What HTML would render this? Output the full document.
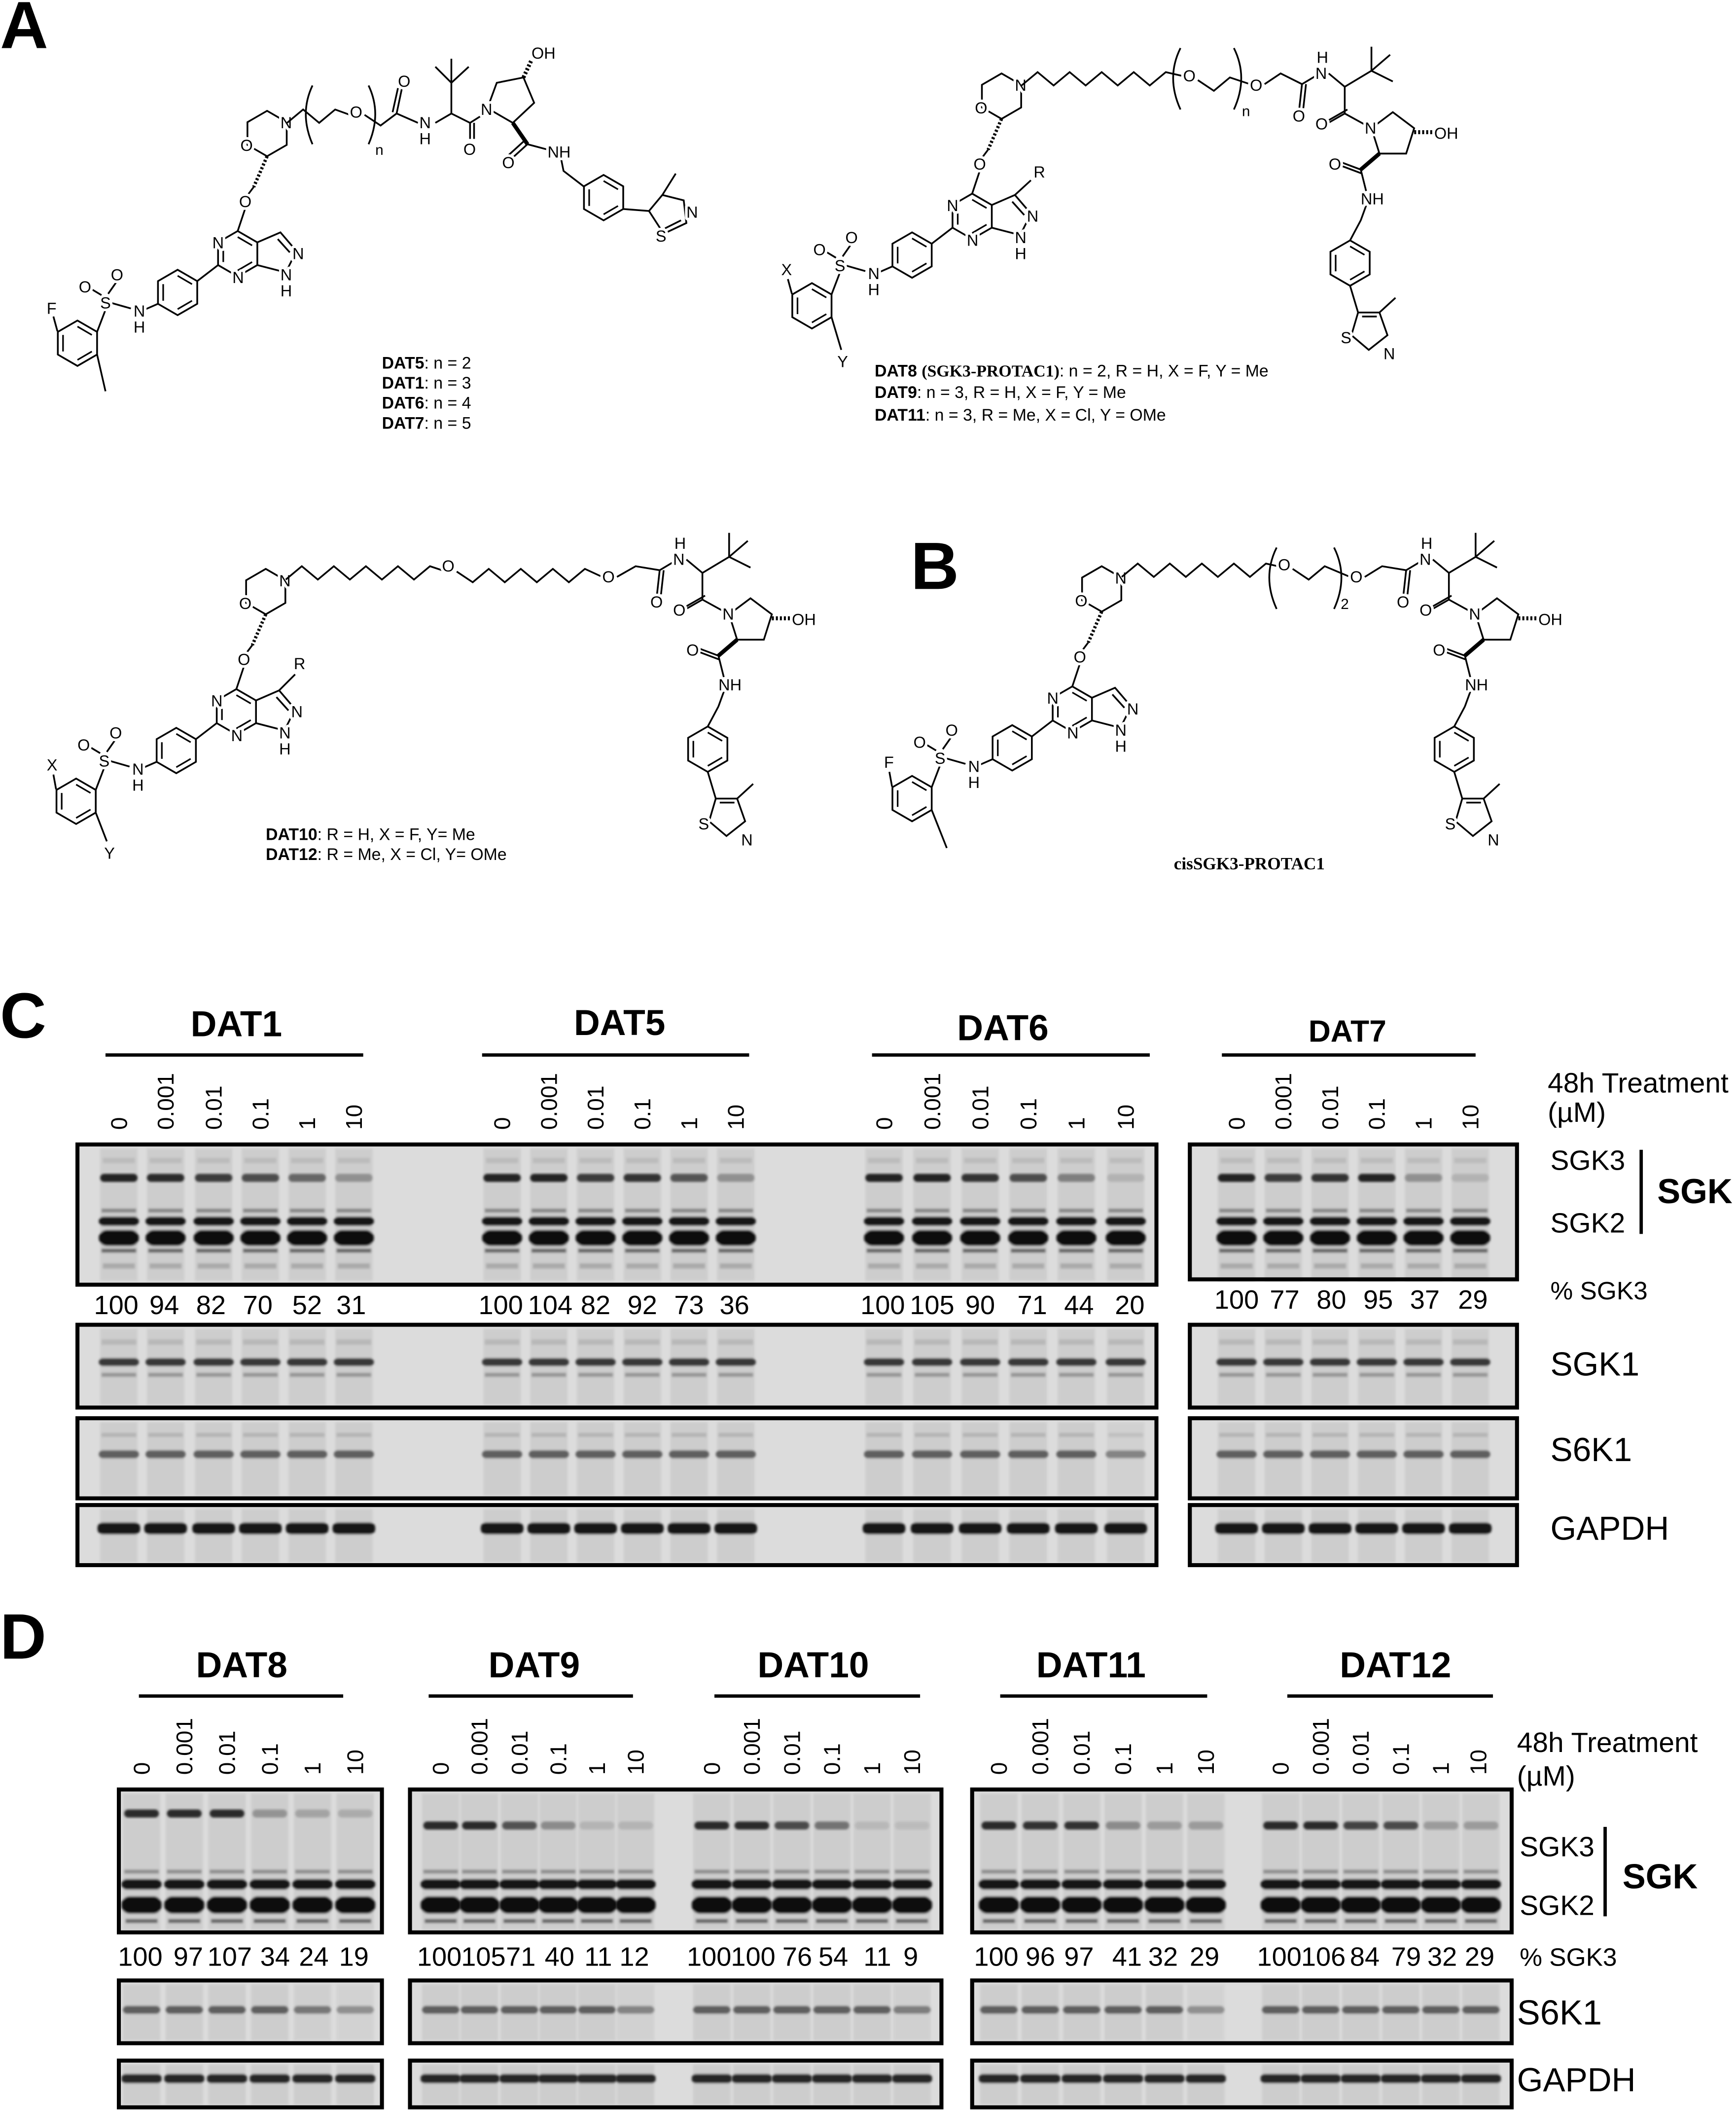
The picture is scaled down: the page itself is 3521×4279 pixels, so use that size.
<!DOCTYPE html>
<html><head><meta charset="utf-8"><style>
html,body{margin:0;padding:0;background:#fff}
svg{display:block}
text{font-family:"Liberation Sans",sans-serif;fill:#000}
.at{font-size:12px;stroke:#fff;stroke-width:4px;paint-order:stroke;stroke-linejoin:round}
.bd{fill:none;stroke:#000;stroke-width:1.3}
.lab{font-size:12.5px}
.r{font-size:17px}
.n{font-size:20px;text-anchor:middle}
.h{font-size:27px;font-weight:bold;text-anchor:middle}
.side{font-size:21px}
</style></head><body>
<svg xmlns="http://www.w3.org/2000/svg" xmlns:xlink="http://www.w3.org/1999/xlink" width="3521" height="4279" viewBox="0 0 1300 1580" preserveAspectRatio="none">
<defs>
<filter id="bl" x="-20%" y="-20%" width="140%" height="140%"><feGaussianBlur stdDeviation="0.9"/></filter>
<polygon id="hx" points="0,-17 14.7,-8.5 14.7,8.5 0,17 -14.7,8.5 -14.7,-8.5" fill="none" stroke="#000" stroke-width="1.3"/>
<g id="ar"><use href="#hx"/><path d="M0,-12.5 L10.8,-6.2 M10.8,6.2 L0,12.5 M-10.8,6.2 L-10.8,-6.2" fill="none" stroke="#000" stroke-width="1.2"/></g>
<g id="LT">
 <use href="#hx"/>
 <path class="bd" d="M-16,55 L-22,73 M-36.7,98.5 L-52.3,110.5 M-81.7,127.5 L-92,132 M-102,131 L-116,127 M-121,132 L-127.3,148.5 M-124,121 L-134,115 M-119,120 L-112,110"/>
 <path d="M0,17 L-10,40" stroke="#000" stroke-width="2.5" stroke-dasharray="1.5 1.5" fill="none"/>
 <path class="bd" d="M-10,40 L-16,48"/>
 <use href="#ar" x="-22" y="90"/>
 <polyline class="bd" points="-7.3,81.5 10,74 22,88 14,104 -7.3,98.5"/>
 <path class="bd" d="M8,79 L17,89"/>
 <use href="#ar" x="-67" y="119"/>
 <use href="#ar" x="-142" y="157"/>
 <text class="at" x="10" y="-4">N</text>
 <text class="at" x="-20" y="13">O</text>
 <text class="at" x="-21" y="55">O</text>
 <text class="at" x="-41" y="86">N</text>
 <text class="at" x="-26" y="112">N</text>
 <text class="at" x="19" y="94">N</text>
 <text class="at" x="10" y="110">N</text>
 <text class="at" x="10" y="122">H</text>
 <text class="at" x="-100" y="137">N</text>
 <text class="at" x="-100" y="149">H</text>
 <text class="at" x="-125" y="131">S</text>
 <text class="at" x="-141" y="119">O</text>
 <text class="at" x="-117" y="110">O</text>
</g>
<g id="RT">
 <polygon class="bd" points="-18,-5 -12,14 8,14 14,-5 -2,-17"/>
 <path class="bd" d="M-18,-5 L-38,-16 M-38,-16 L-52,-8 M-36,-19 L-50,-11 M-38,-16 L-38,-36 M-38,-36 L-18,-48 M-18,-48 L-18,-66 M-18,-48 L-2,-40 M-18,-48 L-4,-60 M-38,-36 L-50,-46 M-60,-44 L-70,-38 M-70,-38 L-72,-20 M-67,-38 L-69,-20 M-26,26 L-42,20 M-25,29 L-41,23 M-26,26 L-22,42 M-22,53 L-26,64 M-26,64 L-34,79 M-34,113 L-28,133"/>
 <path d="M-12,14 L-26,26" stroke="#000" stroke-width="3"/>
 <path d="M14,-2 L28,-2" stroke="#000" stroke-width="3" stroke-dasharray="1.5 1.5"/>
 <use href="#ar" x="-34" y="96"/>
 <polygon class="bd" points="-28,133 -12,133 -6,150 -20,161 -33,150"/>
 <path class="bd" d="M-12,133 L0,122 M-25,136 L-14,136"/>
 <text class="at" x="-23" y="-1">N</text>
 <text class="at" x="29" y="3">OH</text>
 <text class="at" x="-60" y="-4">O</text>
 <text class="at" x="-60" y="-42">N</text>
 <text class="at" x="-59" y="-54">H</text>
 <text class="at" x="-77" y="-10">O</text>
 <text class="at" x="-50" y="26">O</text>
 <text class="at" x="-26" y="52">NH</text>
 <text class="at" x="-41" y="156">S</text>
 <text class="at" x="-9" y="168">N</text>
</g>
<g id="cL" filter="url(#bl)"><rect x="-14" y="860" width="28" height="99" fill="#cdcdcd"/><rect x="-12" y="867" width="24" height="4" fill="#bcbcbc"/><rect x="-13" y="905" width="26" height="3" fill="#888"/><rect x="-15" y="911" width="30" height="7" rx="3.5" fill="#161616"/><rect x="-15" y="921" width="30" height="12" rx="6" fill="#0a0a0a"/><rect x="-13" y="935" width="26" height="3" fill="#666"/><rect x="-12" y="946" width="24" height="4" fill="#aaa"/></g>
<g id="c3" filter="url(#bl)"><rect x="-14" y="879" width="28" height="6" rx="3" fill="#222"/></g>
<g id="c1" filter="url(#bl)"><rect x="-14" y="995" width="28" height="57" fill="#cdcdcd"/><rect x="-13" y="1003" width="26" height="4" fill="#b8b8b8"/><rect x="-15" y="1017" width="30" height="6" rx="3" fill="#383838"/><rect x="-13" y="1028" width="26" height="3" fill="#959595"/></g>
<g id="c6" filter="url(#bl)"><rect x="-14" y="1065" width="28" height="55" fill="#cdcdcd"/><rect x="-13" y="1073" width="26" height="3" fill="#b4b4b4"/><rect x="-15" y="1086" width="30" height="6" rx="3" fill="#5e5e5e"/></g>
<g id="cG" filter="url(#bl)"><rect x="-14" y="1130" width="28" height="40" fill="#cdcdcd"/><rect x="-16" y="1140" width="32" height="9" rx="4" fill="#151515"/></g>
<g id="dL" filter="url(#bl)"><rect x="-14" y="1343" width="28" height="102" fill="#cdcdcd"/><rect x="-13" y="1400" width="26" height="3" fill="#909090"/><rect x="-15" y="1407" width="30" height="8" rx="4" fill="#151515"/><rect x="-15" y="1420" width="30" height="13" rx="6" fill="#0a0a0a"/><rect x="-12" y="1437" width="24" height="3" fill="#666"/></g>
<g id="d3" filter="url(#bl)"><rect x="-13" y="1364" width="26" height="6" rx="3" fill="#2a2a2a"/></g>
<g id="d6" filter="url(#bl)"><rect x="-14" y="1486" width="28" height="42" fill="#cdcdcd"/><rect x="-14" y="1502" width="28" height="6" rx="3" fill="#5e5e5e"/></g>
<g id="dG" filter="url(#bl)"><rect x="-14" y="1546" width="28" height="30" fill="#cdcdcd"/><rect x="-15" y="1553" width="30" height="7" rx="3" fill="#252525"/></g>
</defs>

<rect width="1300" height="1580" fill="#fff"/>

<text x="0" y="36" style="font-size:50px;font-weight:bold">A</text>
<text x="682" y="441" style="font-size:50px;font-weight:bold">B</text>

<!-- Structure 1 -->
<use href="#LT" x="200" y="100"/>
<path class="bd" d="M43,248 L40,237 M72.7,265.5 L79,293"/>
<text class="at" x="35" y="235">F</text>
<polyline class="bd" points="215,92 227,82 239,92 251,82 262,86"/>
<polyline class="bd" points="273,86 285,94 297,85 313,92"/>
<path class="bd" d="M297,85 L301,66 M294,84 L298,66 M326,92 L338,85 L338,62 M338,62 L326,50 M338,62 L338,44 M338,62 L351,50 M338,85 L352,92 L352,104 M355,92 L355,104 M352,92 L363,85"/>
<path class="bd" d="M234,64 Q224,85 234,108 M276,64 Q286,85 276,108"/>
<text class="at" x="262" y="88">O</text>
<text class="at" x="281" y="116" style="font-size:11px">n</text>
<text class="at" x="298" y="65">O</text>
<text class="at" x="314" y="96">N</text>
<text class="at" x="314" y="108">H</text>
<text class="at" x="347" y="116">O</text>
<polygon class="bd" points="365,81 372,62 392,58 400,77 384,92"/>
<path d="M392,58 L398,45" stroke="#000" stroke-width="3" stroke-dasharray="1.5 1.5"/>
<path d="M384,92 L395,108" stroke="#000" stroke-width="3"/>
<path class="bd" d="M395,108 L384,118 M392,106 L381,116 M395,108 L410,112 M420,118 L422,128 L437,139.5 M466.7,156.5 L486,158 M496,146 L506,130 M498,171 L510,165"/>
<text class="at" x="360" y="86">N</text>
<text class="at" x="398" y="44">OH</text>
<text class="at" x="376" y="126">O</text>
<text class="at" x="410" y="118">NH</text>
<use href="#ar" x="452" y="148"/>
<polygon class="bd" points="486,158 496,146 512,150 514,167 497,175"/>
<text class="at" x="491" y="181">S</text>
<text class="at" x="514" y="163">N</text>
<text class="lab" x="286" y="276"><tspan font-weight="bold">DAT5</tspan>: n = 2</text>
<text class="lab" x="286" y="291"><tspan font-weight="bold">DAT1</tspan>: n = 3</text>
<text class="lab" x="286" y="306"><tspan font-weight="bold">DAT6</tspan>: n = 4</text>
<text class="lab" x="286" y="321"><tspan font-weight="bold">DAT7</tspan>: n = 5</text>

<!-- Structure 2 -->
<use href="#LT" x="750" y="72"/>
<path class="bd" d="M593,220 L590,209 M622.7,237.5 L630,262 M760,146 L772,135"/>
<text class="at" x="585" y="206">X</text>
<text class="at" x="627" y="275">Y</text>
<text class="at" x="774" y="133">R</text>
<polyline class="bd" points="765,64 777,54 789,64 801,54 813,64 825,54 837,64 849,54 861,64 873,54 886,57"/>
<polyline class="bd" points="897,60 909,68 921,58 936,63"/>
<path class="bd" d="M884,36 Q873,58 884,82 M924,36 Q935,58 924,82"/>
<text class="at" x="886" y="61">O</text>
<text class="at" x="930" y="87" style="font-size:11px">n</text>
<text class="at" x="936" y="68">O</text>
<polyline class="bd" points="947,63 959,55 975,63"/>
<use href="#RT" x="1045" y="101"/>
<text class="lab" x="655" y="282"><tspan font-weight="bold">DAT8</tspan> <tspan font-weight="bold" font-family="Liberation Serif">(SGK3-PROTAC1)</tspan>: n = 2, R = H, X = F, Y = Me</text>
<text class="lab" x="655" y="298"><tspan font-weight="bold">DAT9</tspan>: n = 3, R = H, X = F, Y = Me</text>
<text class="lab" x="655" y="315"><tspan font-weight="bold">DAT11</tspan>: n = 3, R = Me, X = Cl, Y = OMe</text>

<!-- Structure 3 -->
<use href="#LT" x="199" y="443"/>
<path class="bd" d="M42,591 L40,580 M71.7,608.5 L80,630 M209,517 L221,505"/>
<text class="at" x="35" y="577">X</text>
<text class="at" x="78" y="643">Y</text>
<text class="at" x="220" y="501">R</text>
<polyline class="bd" points="214,434 226,424 238,434 250,424 262,434 274,424 286,434 298,424 310,434 322,424 331,427"/>
<polyline class="bd" points="342,428 354,436 366,426 378,436 390,426 402,436 414,426 426,436 438,426 451,432"/>
<polyline class="bd" points="462,432 476,424 494,427"/>
<text class="at" x="331" y="428">O</text>
<text class="at" x="451" y="436">O</text>
<use href="#RT" x="564" y="465"/>
<text class="lab" x="199" y="629"><tspan font-weight="bold">DAT10</tspan>: R = H, X = F, Y= Me</text>
<text class="lab" x="199" y="644"><tspan font-weight="bold">DAT12</tspan>: R = Me, X = Cl, Y= OMe</text>

<!-- Structure 4 (B) -->
<use href="#LT" x="825" y="441"/>
<path class="bd" d="M668,589 L666,578 M697.7,606.5 L709,635"/>
<text class="at" x="662" y="575">F</text>
<polyline class="bd" points="840,432 852,422 864,432 876,422 888,432 900,422 912,432 924,422 936,432 948,422 957,424"/>
<polyline class="bd" points="968,426 980,434 992,424 1011,432"/>
<path class="bd" d="M956,410 Q945,432 956,456 M999,410 Q1010,432 999,456"/>
<text class="at" x="957" y="427">O</text>
<text class="at" x="1004" y="456" style="font-size:11px">2</text>
<text class="at" x="1011" y="436">O</text>
<polyline class="bd" points="1022,432 1035,424 1053,427"/>
<use href="#RT" x="1123" y="465"/>
<text x="879" y="651" style="font-family:'Liberation Serif',serif;font-size:13px;font-weight:bold">cisSGK3-PROTAC1</text>

<!-- Panel C -->
<text x="0" y="777" style="font-size:48px;font-weight:bold">C</text>
<text class="h" x="177" y="776">DAT1</text>
<text class="h" x="464" y="775">DAT5</text>
<text class="h" x="751" y="779">DAT6</text>
<text class="h" x="1009" y="780" style="font-size:23px">DAT7</text>
<g stroke="#000" stroke-width="2.5">
<line x1="79" y1="790" x2="272" y2="790"/><line x1="361" y1="790" x2="561" y2="790"/><line x1="653" y1="790" x2="861" y2="790"/><line x1="915" y1="790" x2="1105" y2="790"/>
</g>
<g>
<text class="r" transform="translate(95,846) rotate(-90)">0</text><text class="r" transform="translate(130,846) rotate(-90)">0.001</text><text class="r" transform="translate(166,846) rotate(-90)">0.01</text><text class="r" transform="translate(201,846) rotate(-90)">0.1</text><text class="r" transform="translate(236,846) rotate(-90)">1</text><text class="r" transform="translate(271,846) rotate(-90)">10</text>
<text class="r" transform="translate(382,846) rotate(-90)">0</text><text class="r" transform="translate(417,846) rotate(-90)">0.001</text><text class="r" transform="translate(452,846) rotate(-90)">0.01</text><text class="r" transform="translate(487,846) rotate(-90)">0.1</text><text class="r" transform="translate(522,846) rotate(-90)">1</text><text class="r" transform="translate(557,846) rotate(-90)">10</text>
<text class="r" transform="translate(668,846) rotate(-90)">0</text><text class="r" transform="translate(704,846) rotate(-90)">0.001</text><text class="r" transform="translate(740,846) rotate(-90)">0.01</text><text class="r" transform="translate(776,846) rotate(-90)">0.1</text><text class="r" transform="translate(812,846) rotate(-90)">1</text><text class="r" transform="translate(849,846) rotate(-90)">10</text>
<text class="r" transform="translate(932,846) rotate(-90)">0</text><text class="r" transform="translate(967,846) rotate(-90)">0.001</text><text class="r" transform="translate(1002,846) rotate(-90)">0.01</text><text class="r" transform="translate(1037,846) rotate(-90)">0.1</text><text class="r" transform="translate(1072,846) rotate(-90)">1</text><text class="r" transform="translate(1107,846) rotate(-90)">10</text>
</g>
<text class="side" x="1159" y="818">48h Treatment</text>
<text class="side" x="1159" y="840">(µM)</text>

<rect x="58" y="857" width="808" height="105" fill="#dcdcdc"/>
<rect x="891" y="857" width="245" height="101" fill="#dcdcdc"/>
<g>
<use href="#cL" x="89"/><use href="#cL" x="124"/><use href="#cL" x="160"/><use href="#cL" x="195"/><use href="#cL" x="230"/><use href="#cL" x="265"/>
<use href="#cL" x="376"/><use href="#cL" x="411"/><use href="#cL" x="446"/><use href="#cL" x="481"/><use href="#cL" x="516"/><use href="#cL" x="551"/>
<use href="#cL" x="662"/><use href="#cL" x="698"/><use href="#cL" x="734"/><use href="#cL" x="770"/><use href="#cL" x="806"/><use href="#cL" x="843"/>
<use href="#cL" x="926"/><use href="#cL" x="961"/><use href="#cL" x="996"/><use href="#cL" x="1031"/><use href="#cL" x="1066"/><use href="#cL" x="1101"/>
<use href="#c3" x="89"/><use href="#c3" x="124" opacity=".95"/><use href="#c3" x="160" opacity=".85"/><use href="#c3" x="195" opacity=".75"/><use href="#c3" x="230" opacity=".6"/><use href="#c3" x="265" opacity=".35"/>
<use href="#c3" x="376"/><use href="#c3" x="411"/><use href="#c3" x="446" opacity=".85"/><use href="#c3" x="481" opacity=".9"/><use href="#c3" x="516" opacity=".7"/><use href="#c3" x="551" opacity=".35"/>
<use href="#c3" x="662"/><use href="#c3" x="698"/><use href="#c3" x="734" opacity=".9"/><use href="#c3" x="770" opacity=".75"/><use href="#c3" x="806" opacity=".45"/><use href="#c3" x="843" opacity=".15"/>
<use href="#c3" x="926"/><use href="#c3" x="961" opacity=".85"/><use href="#c3" x="996" opacity=".9"/><use href="#c3" x="1031"/><use href="#c3" x="1066" opacity=".35"/><use href="#c3" x="1101" opacity=".15"/>
</g>
<rect x="58" y="857" width="808" height="105" fill="none" stroke="#000" stroke-width="3"/>
<rect x="891" y="857" width="245" height="101" fill="none" stroke="#000" stroke-width="3"/>
<text class="side" x="1161" y="876">SGK3</text>
<text class="side" x="1161" y="923">SGK2</text>
<line x1="1229" y1="861" x2="1229" y2="924" stroke="#000" stroke-width="2.5"/>
<text x="1241" y="901" style="font-size:26px;font-weight:bold">SGK</text>

<g>
<text class="n" x="87" y="984">100</text><text class="n" x="123" y="984">94</text><text class="n" x="158" y="984">82</text><text class="n" x="193" y="984">70</text><text class="n" x="230" y="984">52</text><text class="n" x="263" y="984">31</text>
<text class="n" x="375" y="984">100</text><text class="n" x="412" y="984">104</text><text class="n" x="446" y="984">82</text><text class="n" x="481" y="984">92</text><text class="n" x="516" y="984">73</text><text class="n" x="550" y="984">36</text>
<text class="n" x="661" y="984">100</text><text class="n" x="698" y="984">105</text><text class="n" x="734" y="984">90</text><text class="n" x="773" y="984">71</text><text class="n" x="808" y="984">44</text><text class="n" x="846" y="984">20</text>
<text class="n" x="926" y="980">100</text><text class="n" x="962" y="980">77</text><text class="n" x="997" y="980">80</text><text class="n" x="1032" y="980">95</text><text class="n" x="1067" y="980">37</text><text class="n" x="1103" y="980">29</text>
</g>
<text class="side" x="1161" y="973" style="font-size:19px">% SGK3</text>

<rect x="58" y="992" width="808" height="62" fill="#dcdcdc"/>
<rect x="891" y="992" width="245" height="62" fill="#dcdcdc"/>
<use href="#c1" x="89"/><use href="#c1" x="124"/><use href="#c1" x="160"/><use href="#c1" x="195"/><use href="#c1" x="230"/><use href="#c1" x="265"/>
<use href="#c1" x="376"/><use href="#c1" x="411"/><use href="#c1" x="446"/><use href="#c1" x="481"/><use href="#c1" x="516"/><use href="#c1" x="551"/>
<use href="#c1" x="662"/><use href="#c1" x="698"/><use href="#c1" x="734"/><use href="#c1" x="770"/><use href="#c1" x="806"/><use href="#c1" x="843"/>
<use href="#c1" x="926"/><use href="#c1" x="961"/><use href="#c1" x="996"/><use href="#c1" x="1031"/><use href="#c1" x="1066"/><use href="#c1" x="1101"/>
<rect x="58" y="992" width="808" height="62" fill="none" stroke="#000" stroke-width="3"/>
<rect x="891" y="992" width="245" height="62" fill="none" stroke="#000" stroke-width="3"/>
<text x="1161" y="1030" style="font-size:25px">SGK1</text>

<rect x="58" y="1062" width="808" height="60" fill="#dcdcdc"/>
<rect x="891" y="1062" width="245" height="60" fill="#dcdcdc"/>
<use href="#c6" x="89"/><use href="#c6" x="124"/><use href="#c6" x="160"/><use href="#c6" x="195"/><use href="#c6" x="230"/><use href="#c6" x="265"/>
<use href="#c6" x="376"/><use href="#c6" x="411"/><use href="#c6" x="446"/><use href="#c6" x="481"/><use href="#c6" x="516"/><use href="#c6" x="551"/>
<use href="#c6" x="662"/><use href="#c6" x="698"/><use href="#c6" x="734"/><use href="#c6" x="770"/><use href="#c6" x="806"/><use href="#c6" x="843" opacity=".7"/>
<use href="#c6" x="926"/><use href="#c6" x="961"/><use href="#c6" x="996"/><use href="#c6" x="1031"/><use href="#c6" x="1066"/><use href="#c6" x="1101"/>
<rect x="58" y="1062" width="808" height="60" fill="none" stroke="#000" stroke-width="3"/>
<rect x="891" y="1062" width="245" height="60" fill="none" stroke="#000" stroke-width="3"/>
<text x="1161" y="1094" style="font-size:25px">S6K1</text>

<rect x="58" y="1127" width="808" height="45" fill="#dcdcdc"/>
<rect x="891" y="1127" width="245" height="45" fill="#dcdcdc"/>
<use href="#cG" x="89"/><use href="#cG" x="124"/><use href="#cG" x="160"/><use href="#cG" x="195"/><use href="#cG" x="230"/><use href="#cG" x="265"/>
<use href="#cG" x="376"/><use href="#cG" x="411"/><use href="#cG" x="446"/><use href="#cG" x="481"/><use href="#cG" x="516"/><use href="#cG" x="551"/>
<use href="#cG" x="662"/><use href="#cG" x="698"/><use href="#cG" x="734"/><use href="#cG" x="770"/><use href="#cG" x="806"/><use href="#cG" x="843"/>
<use href="#cG" x="926"/><use href="#cG" x="961"/><use href="#cG" x="996"/><use href="#cG" x="1031"/><use href="#cG" x="1066"/><use href="#cG" x="1101"/>
<rect x="58" y="1127" width="808" height="45" fill="none" stroke="#000" stroke-width="3"/>
<rect x="891" y="1127" width="245" height="45" fill="none" stroke="#000" stroke-width="3"/>
<text x="1161" y="1153" style="font-size:25px">GAPDH</text>

<!-- Panel D -->
<text x="0" y="1242" style="font-size:48px;font-weight:bold">D</text>
<text class="h" x="181" y="1256">DAT8</text>
<text class="h" x="400" y="1256">DAT9</text>
<text class="h" x="609" y="1256">DAT10</text>
<text class="h" x="817" y="1256">DAT11</text>
<text class="h" x="1045" y="1256">DAT12</text>
<g stroke="#000" stroke-width="2.5">
<line x1="104" y1="1270" x2="257" y2="1270"/><line x1="321" y1="1270" x2="474" y2="1270"/><line x1="535" y1="1270" x2="689" y2="1270"/><line x1="749" y1="1270" x2="904" y2="1270"/><line x1="964" y1="1270" x2="1118" y2="1270"/>
</g>
<g>
<text class="r" transform="translate(112,1329) rotate(-90)">0</text><text class="r" transform="translate(144,1329) rotate(-90)">0.001</text><text class="r" transform="translate(176,1329) rotate(-90)">0.01</text><text class="r" transform="translate(208,1329) rotate(-90)">0.1</text><text class="r" transform="translate(240,1329) rotate(-90)">1</text><text class="r" transform="translate(272,1329) rotate(-90)">10</text>
<text class="r" transform="translate(336,1329) rotate(-90)">0</text><text class="r" transform="translate(365,1329) rotate(-90)">0.001</text><text class="r" transform="translate(395,1329) rotate(-90)">0.01</text><text class="r" transform="translate(424,1329) rotate(-90)">0.1</text><text class="r" transform="translate(453,1329) rotate(-90)">1</text><text class="r" transform="translate(482,1329) rotate(-90)">10</text>
<text class="r" transform="translate(539,1329) rotate(-90)">0</text><text class="r" transform="translate(569,1329) rotate(-90)">0.001</text><text class="r" transform="translate(599,1329) rotate(-90)">0.01</text><text class="r" transform="translate(629,1329) rotate(-90)">0.1</text><text class="r" transform="translate(659,1329) rotate(-90)">1</text><text class="r" transform="translate(689,1329) rotate(-90)">10</text>
<text class="r" transform="translate(754,1329) rotate(-90)">0</text><text class="r" transform="translate(785,1329) rotate(-90)">0.001</text><text class="r" transform="translate(816,1329) rotate(-90)">0.01</text><text class="r" transform="translate(847,1329) rotate(-90)">0.1</text><text class="r" transform="translate(878,1329) rotate(-90)">1</text><text class="r" transform="translate(909,1329) rotate(-90)">10</text>
<text class="r" transform="translate(965,1329) rotate(-90)">0</text><text class="r" transform="translate(995,1329) rotate(-90)">0.001</text><text class="r" transform="translate(1025,1329) rotate(-90)">0.01</text><text class="r" transform="translate(1055,1329) rotate(-90)">0.1</text><text class="r" transform="translate(1085,1329) rotate(-90)">1</text><text class="r" transform="translate(1113,1329) rotate(-90)">10</text>
</g>
<text class="side" x="1136" y="1312">48h Treatment</text>
<text class="side" x="1136" y="1337">(µM)</text>

<rect x="89" y="1340" width="197" height="107" fill="#dcdcdc"/>
<rect x="307" y="1340" width="398" height="107" fill="#dcdcdc"/>
<rect x="728" y="1340" width="404" height="107" fill="#dcdcdc"/>
<use href="#dL" x="106"/><use href="#dL" x="138"/><use href="#dL" x="170"/><use href="#dL" x="202"/><use href="#dL" x="234"/><use href="#dL" x="266"/>
<use href="#dL" x="330"/><use href="#dL" x="359"/><use href="#dL" x="389"/><use href="#dL" x="418"/><use href="#dL" x="447"/><use href="#dL" x="476"/>
<use href="#dL" x="533"/><use href="#dL" x="563"/><use href="#dL" x="593"/><use href="#dL" x="623"/><use href="#dL" x="653"/><use href="#dL" x="683"/>
<use href="#dL" x="748"/><use href="#dL" x="779"/><use href="#dL" x="810"/><use href="#dL" x="841"/><use href="#dL" x="872"/><use href="#dL" x="903"/>
<use href="#dL" x="959"/><use href="#dL" x="989"/><use href="#dL" x="1019"/><use href="#dL" x="1049"/><use href="#dL" x="1079"/><use href="#dL" x="1109"/>
<g transform="translate(0,-9)"><use href="#d3" x="106"/><use href="#d3" x="138"/><use href="#d3" x="170"/><use href="#d3" x="202" opacity=".35"/><use href="#d3" x="234" opacity=".25"/><use href="#d3" x="266" opacity=".2"/></g>
<use href="#d3" x="330"/><use href="#d3" x="359"/><use href="#d3" x="389" opacity=".75"/><use href="#d3" x="418" opacity=".4"/><use href="#d3" x="447" opacity=".15"/><use href="#d3" x="476" opacity=".15"/>
<use href="#d3" x="533"/><use href="#d3" x="563"/><use href="#d3" x="593" opacity=".8"/><use href="#d3" x="623" opacity=".55"/><use href="#d3" x="653" opacity=".12"/><use href="#d3" x="683" opacity=".1"/>
<use href="#d3" x="748"/><use href="#d3" x="779" opacity=".95"/><use href="#d3" x="810" opacity=".95"/><use href="#d3" x="841" opacity=".4"/><use href="#d3" x="872" opacity=".3"/><use href="#d3" x="903" opacity=".3"/>
<use href="#d3" x="959"/><use href="#d3" x="989"/><use href="#d3" x="1019" opacity=".85"/><use href="#d3" x="1049" opacity=".8"/><use href="#d3" x="1079" opacity=".3"/><use href="#d3" x="1109" opacity=".3"/>
<rect x="89" y="1340" width="197" height="107" fill="none" stroke="#000" stroke-width="3"/>
<rect x="307" y="1340" width="398" height="107" fill="none" stroke="#000" stroke-width="3"/>
<rect x="728" y="1340" width="404" height="107" fill="none" stroke="#000" stroke-width="3"/>
<text class="side" x="1138" y="1390">SGK3</text>
<text class="side" x="1138" y="1434">SGK2</text>
<line x1="1202" y1="1368" x2="1202" y2="1435" stroke="#000" stroke-width="2.5"/>
<text x="1215" y="1414" style="font-size:26px;font-weight:bold">SGK</text>

<g>
<text class="n" x="105" y="1472">100</text><text class="n" x="141" y="1472">97</text><text class="n" x="172" y="1472">107</text><text class="n" x="206" y="1472">34</text><text class="n" x="235" y="1472">24</text><text class="n" x="265" y="1472">19</text>
<text class="n" x="329" y="1472">100</text><text class="n" x="362" y="1472">105</text><text class="n" x="390" y="1472">71</text><text class="n" x="419" y="1472">40</text><text class="n" x="448" y="1472">11</text><text class="n" x="475" y="1472">12</text>
<text class="n" x="531" y="1472">100</text><text class="n" x="564" y="1472">100</text><text class="n" x="597" y="1472">76</text><text class="n" x="624" y="1472">54</text><text class="n" x="657" y="1472">11</text><text class="n" x="682" y="1472">9</text>
<text class="n" x="746" y="1472">100</text><text class="n" x="779" y="1472">96</text><text class="n" x="808" y="1472">97</text><text class="n" x="844" y="1472">41</text><text class="n" x="871" y="1472">32</text><text class="n" x="902" y="1472">29</text>
<text class="n" x="958" y="1472">100</text><text class="n" x="991" y="1472">106</text><text class="n" x="1022" y="1472">84</text><text class="n" x="1053" y="1472">79</text><text class="n" x="1080" y="1472">32</text><text class="n" x="1108" y="1472">29</text>
</g>
<text class="side" x="1138" y="1472" style="font-size:19px">% SGK3</text>

<rect x="89" y="1483" width="197" height="47" fill="#dcdcdc"/>
<rect x="307" y="1483" width="398" height="47" fill="#dcdcdc"/>
<rect x="728" y="1483" width="404" height="47" fill="#dcdcdc"/>
<use href="#d6" x="106"/><use href="#d6" x="138"/><use href="#d6" x="170"/><use href="#d6" x="202"/><use href="#d6" x="234" opacity=".8"/><use href="#d6" x="266" opacity=".6"/>
<use href="#d6" x="330"/><use href="#d6" x="359"/><use href="#d6" x="389"/><use href="#d6" x="418"/><use href="#d6" x="447"/><use href="#d6" x="476" opacity=".7"/>
<use href="#d6" x="533"/><use href="#d6" x="563"/><use href="#d6" x="593"/><use href="#d6" x="623"/><use href="#d6" x="653"/><use href="#d6" x="683" opacity=".75"/>
<use href="#d6" x="748"/><use href="#d6" x="779"/><use href="#d6" x="810"/><use href="#d6" x="841"/><use href="#d6" x="872"/><use href="#d6" x="903" opacity=".6"/>
<use href="#d6" x="959"/><use href="#d6" x="989"/><use href="#d6" x="1019"/><use href="#d6" x="1049"/><use href="#d6" x="1079"/><use href="#d6" x="1109"/>
<rect x="89" y="1483" width="197" height="47" fill="none" stroke="#000" stroke-width="3"/>
<rect x="307" y="1483" width="398" height="47" fill="none" stroke="#000" stroke-width="3"/>
<rect x="728" y="1483" width="404" height="47" fill="none" stroke="#000" stroke-width="3"/>
<text x="1136" y="1516" style="font-size:26px">S6K1</text>

<rect x="89" y="1543" width="197" height="35" fill="#dcdcdc"/>
<rect x="307" y="1543" width="398" height="35" fill="#dcdcdc"/>
<rect x="728" y="1543" width="404" height="35" fill="#dcdcdc"/>
<use href="#dG" x="106"/><use href="#dG" x="138"/><use href="#dG" x="170"/><use href="#dG" x="202"/><use href="#dG" x="234"/><use href="#dG" x="266"/>
<use href="#dG" x="330"/><use href="#dG" x="359"/><use href="#dG" x="389"/><use href="#dG" x="418"/><use href="#dG" x="447"/><use href="#dG" x="476"/>
<use href="#dG" x="533"/><use href="#dG" x="563"/><use href="#dG" x="593"/><use href="#dG" x="623"/><use href="#dG" x="653"/><use href="#dG" x="683"/>
<use href="#dG" x="748"/><use href="#dG" x="779"/><use href="#dG" x="810"/><use href="#dG" x="841"/><use href="#dG" x="872"/><use href="#dG" x="903"/>
<use href="#dG" x="959"/><use href="#dG" x="989"/><use href="#dG" x="1019"/><use href="#dG" x="1049"/><use href="#dG" x="1079"/><use href="#dG" x="1109"/>
<rect x="89" y="1543" width="197" height="35" fill="none" stroke="#000" stroke-width="3"/>
<rect x="307" y="1543" width="398" height="35" fill="none" stroke="#000" stroke-width="3"/>
<rect x="728" y="1543" width="404" height="35" fill="none" stroke="#000" stroke-width="3"/>
<text x="1136" y="1566" style="font-size:25px">GAPDH</text>
</svg>
</body></html>
